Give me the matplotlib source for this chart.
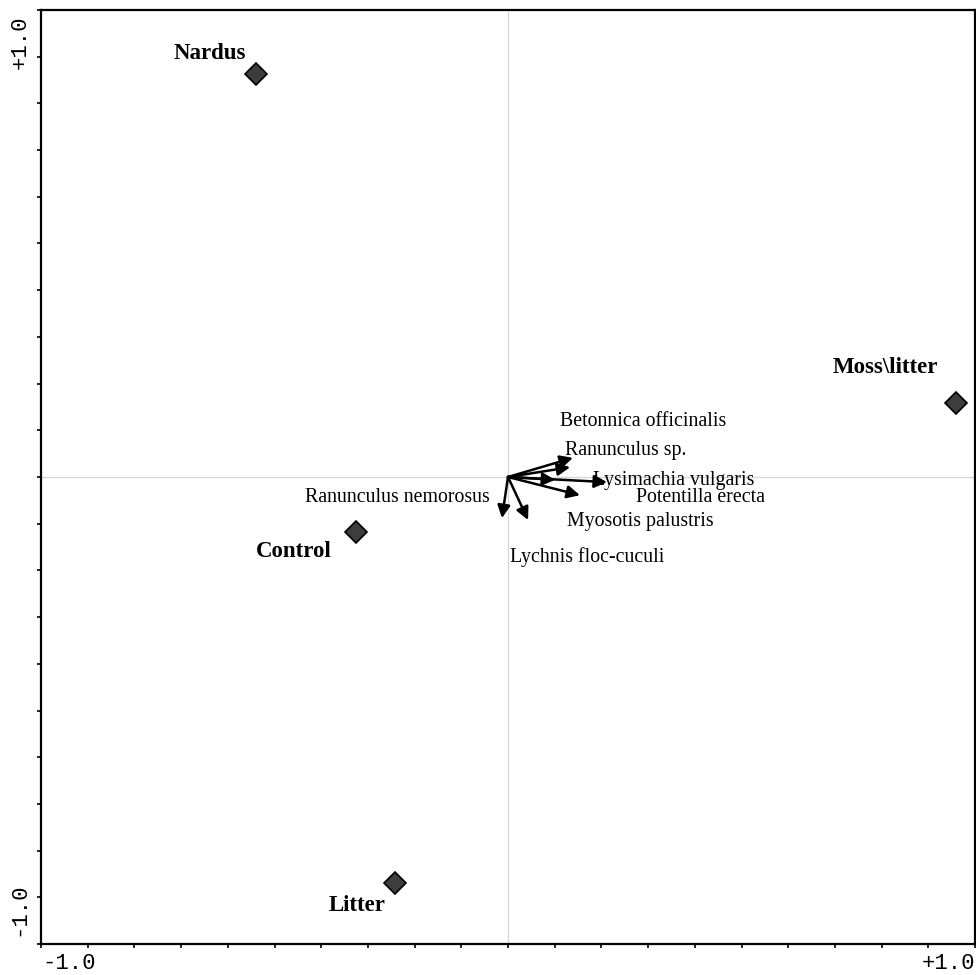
import matplotlib
matplotlib.use("Agg")
import matplotlib.pyplot as plt
import numpy as np

# Site (treatment) scores
sites = ["Nardus", "Moss\\litter", "Control", "Litter"]
site_x = [-0.540, 0.959, -0.325, -0.242]
site_y = [0.863, 0.158, -0.118, -0.869]

# Species scores (arrows from origin)
species = ["Betonnica officinalis", "Ranunculus sp.", "Lysimachia vulgaris",
           "Potentilla erecta", "Myosotis palustris", "Lychnis floc-cuculi",
           "Ranunculus nemorosus"]
sp_x = [0.139, 0.133, 0.212, 0.101, 0.154, 0.043, -0.013]
sp_y = [0.041, 0.021, -0.011, -0.006, -0.039, -0.092, -0.088]

axis_labels = ["-1.0", "+1.0"]

# label offsets in points (dx, dy, ha)
site_off = [(-33, 15), (-51, 26), (-45, -14), (-27, -16)]
sp_off = [(-9, 26, "left"), (-4, 12, "left"), (-10, 1, "left"),
          (58, -13, "left"), (-9, -19, "left"), (-13, -27, "left"),
          (-9, 15, "right")]

fig = plt.figure(figsize=(9.76, 9.75), dpi=100)
ax = fig.add_axes([41 / 976, 1 - 944 / 975, 934 / 976, 934 / 975])
ax.set_xlim(-1, 1)
ax.set_ylim(-1, 1)

for s in ax.spines.values():
    s.set_linewidth(1.6)
    s.set_color("black")

ticks = np.round(np.arange(-1, 1.0001, 0.1), 2)
ax.set_xticks(ticks)
ax.set_yticks(ticks)
ax.set_xticklabels([])
ax.set_yticklabels([])
ax.tick_params(direction="out", length=3, width=1.2, color="black")

ax.axhline(0, color="#d6d6d6", lw=0.9, zorder=0)
ax.axvline(0, color="#d6d6d6", lw=0.9, zorder=0)

mono = "Liberation Mono"
ax.text(0.03, -0.01, axis_labels[0], transform=ax.transAxes, ha="center",
        va="top", fontsize=16, family=mono)
ax.text(1.0, -0.01, axis_labels[1], transform=ax.transAxes, ha="right",
        va="top", fontsize=16, family=mono)
ax.text(-0.022, 0.965, axis_labels[1], transform=ax.transAxes, ha="center",
        va="center", rotation=90, fontsize=16, family=mono)
ax.text(-0.024, 0.037, axis_labels[0], transform=ax.transAxes, ha="center",
        va="center", rotation=90, fontsize=16, family=mono)

serif = "Liberation Serif"
for x, y in zip(sp_x, sp_y):
    ax.annotate("", xy=(x, y), xytext=(0, 0),
                arrowprops=dict(arrowstyle="-|>", color="black", lw=1.8,
                                mutation_scale=19, shrinkA=0, shrinkB=0))
for name, x, y, (dx, dy, ha) in zip(species, sp_x, sp_y, sp_off):
    ax.annotate(name, xy=(x, y), xytext=(dx, dy), textcoords="offset points",
                ha=ha, va="center", fontsize=14.3, family=serif)

ax.plot(site_x, site_y, ls="none", marker="D", markersize=11,
        markerfacecolor="#3d3d3d", markeredgecolor="black", markeredgewidth=1.2,
        zorder=5)
for name, x, y, (dx, dy) in zip(sites, site_x, site_y, site_off):
    ax.annotate(name, xy=(x, y), xytext=(dx, dy), textcoords="offset points",
                ha="center", va="center", fontsize=16.5, fontweight="bold",
                family=serif)

fig.savefig("out.png", dpi=100)
